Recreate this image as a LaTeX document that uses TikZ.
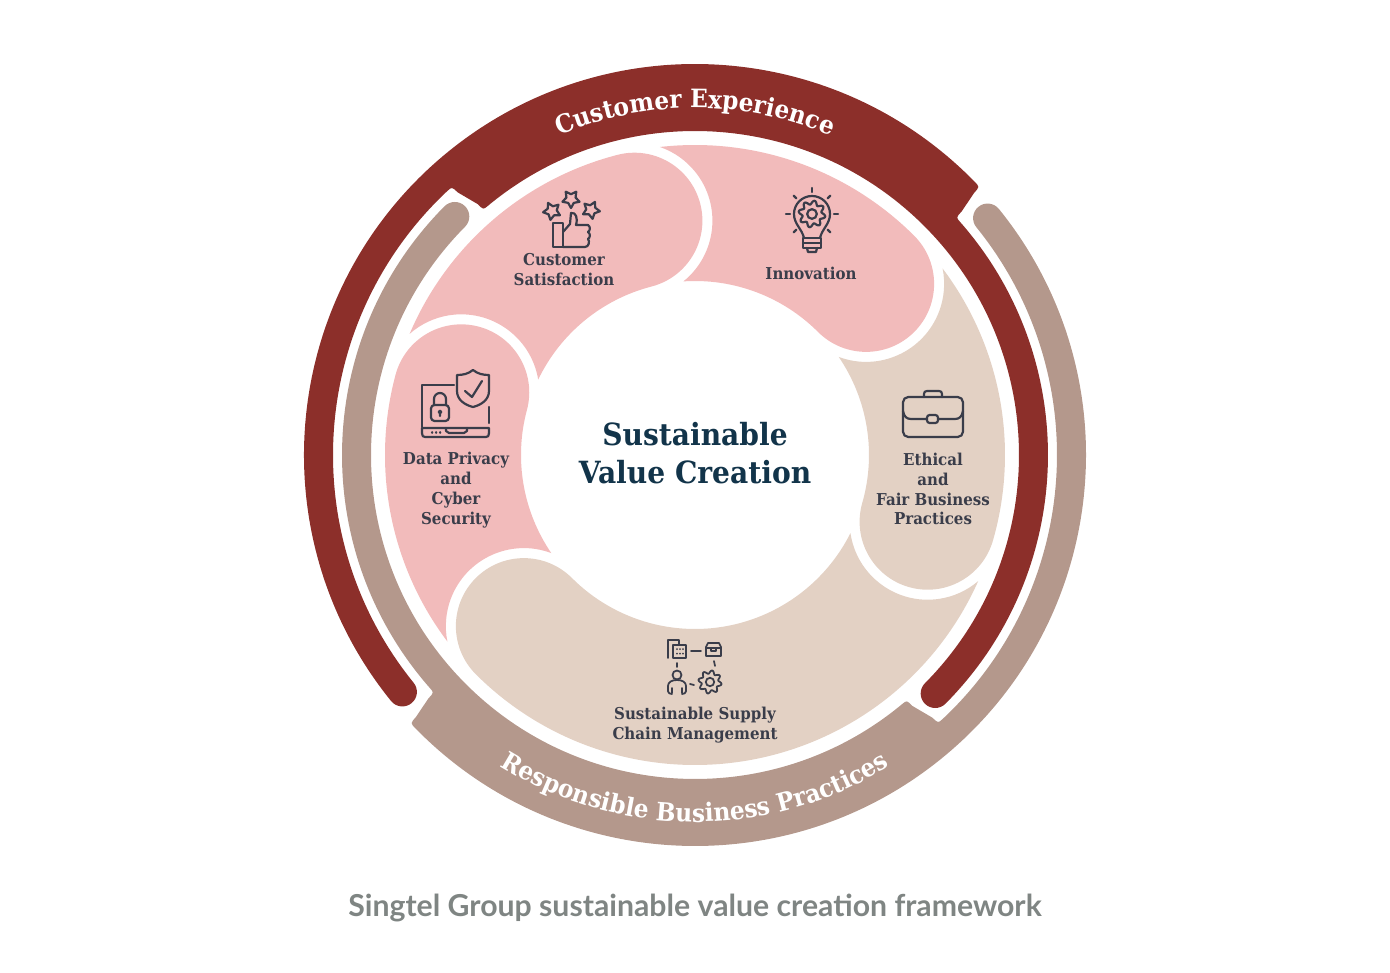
\documentclass[tikz,border=0pt]{standalone}
\usepackage{fontspec}
\setmainfont{DejaVu Serif}[FakeStretch=0.92]
\setsansfont{Lato}
\usetikzlibrary{decorations.text}

\definecolor{bandred}{HTML}{8C2F2A}
\definecolor{bandtan}{HTML}{B4988C}
\definecolor{petalpink}{HTML}{F2BBBB}
\definecolor{petalsand}{HTML}{E3D1C4}
\definecolor{inkgrey}{HTML}{3A3D4A}
\definecolor{inkteal}{HTML}{12344A}
\definecolor{capgrey}{HTML}{7F8583}

\tikzstyle{tag} = [text=inkgrey, align=center, inner sep=0pt, font=\bfseries\fontsize{9.3}{11.35}\selectfont]
\tikzstyle{icon} = [draw=inkgrey, line width=1.25pt, line join=round, line cap=round]
\tikzstyle{thinicon} = [icon, line width=1pt]

% one outer band, turned as a whole
\newcommand{\band}[2]{
    \fill[#1, rotate=#2] (219:391) arc[start angle=219, end angle=44.3, radius=391]
        .. controls (43.3:391) .. (43.2:383) -- (42.4:361) .. controls (42.3:353) .. (41.3:353)
        arc[start angle=41.3, end angle=-44.8, radius=353]
        arc[start angle=-44.8, end angle=-224.8, radius=14.5]
        arc[start angle=-44.8, end angle=129.8, radius=324]
        .. controls (130.8:324) .. (130.9:332) -- (132.1:354) .. controls (132.2:362) .. (133.2:362)
        arc[start angle=133.2, end angle=219, radius=362]
        arc[start angle=39, end angle=-141, radius=14.5] -- cycle;
}
% one petal: head angle, angle of the next head, colour
\newcommand{\petal}[3]{
    \fill[#3] (#2-8:310) arc[start angle=#2-8, end angle=#1, radius=310]
        arc[start angle=#1, end angle=#1-180, radius=68]
        arc[start angle=#1, end angle=#2-10.68, radius=174]
        arc[start angle=#2+204.4, end angle=#2+326.4, radius=78] -- cycle;
}
\newcommand{\staricon}[3]{
    \draw[icon, shift={(#1,#2)}, rotate=#3] plot[samples at={90,126,...,414}] (\x:{ifthenelse(mod(\x-90,72)==0,9,4.8)}) -- cycle;
}
\newcommand{\gearicon}[4]{
    \draw[#4, shift={(#1,#2)}] plot[domain=0:360, samples=97, smooth] (\x:{#3*(1+.17*sin(8*\x))}) -- cycle;
    \draw[#4, shift={(#1,#2)}] (0,0) circle[radius=#3*.42];
}

\begin{document}
\begin{tikzpicture}[x=0.02cm, y=0.02cm]
    \useasboundingbox (-695,-518) rectangle (695,455);

    \band{bandtan}{180}
    \band{bandred}{0}

    \petal{104.5}{165}{petalpink}
    \petal{165}{225}{petalpink}
    \petal{225}{344}{petalsand}
    \petal{344}{405}{petalsand}
    \petal{45}{104.5}{petalpink}

    % band titles
    \path[decorate, decoration={text along path, text align=center,
        text={|\bfseries\fontsize{14.4}{14.4}\selectfont\color{white}|Customer Experience}}]
        (125:347) arc[start angle=125, end angle=55, radius=347];
    \path[decorate, decoration={text along path, text align=center,
        text={|\bfseries\fontsize{14.4}{14.4}\selectfont\color{white}|Responsible Business Practices}}]
        (205:367) arc[start angle=205, end angle=335, radius=367];

    \node (title) at (0,2) [align=center, inner sep=0pt, text=inkteal, font=\bfseries\fontsize{17.4}{22}\selectfont] {Sustainable\\Value Creation};
    \node (satisfaction) at (-131,185) [tag] {Customer\\Satisfaction};
    \node (innovation) at (116,182) [tag] {Innovation};
    \node (privacy) at (-239,-35) [tag] {Data Privacy\\and\\Cyber\\Security};
    \node (ethics) at (238,-34) [tag] {Ethical\\and\\Fair Business\\Practices};
    \node (supply) at (0,-270) [tag] {Sustainable Supply\\Chain Management};
    \node (caption) at (0,-453) [text=capgrey, inner sep=0pt, font=\sffamily\bfseries\fontsize{17.2}{18}\selectfont] {Singtel Group sustainable value creation framework};

    % icons, written in pixels of the sheet
    \begin{scope}[shift={(-695,455)}, yscale=-1]
        % thumb and stars
        \staricon{552}{211}{10}
        \staricon{571}{199}{0}
        \staricon{591}{210}{-10}
        \draw[icon] (553,223) rectangle (563,247);
        \draw[icon] (563,232) -- (570,224) -- (571,213) .. controls (576,212) and (578,218) .. (576,225)
            -- (588,225) .. controls (591,227) and (590,231) .. (588,232) .. controls (591,234) and (590,238) .. (588,239)
            .. controls (590,241) and (589,247) .. (585,247) -- (563,247);

        % bulb
        \draw[icon] (804,238) .. controls (802,229) and (794,224) .. (794,214)
            arc[start angle=180, end angle=360, radius=18]
            .. controls (830,224) and (822,229) .. (820,238);
        \gearicon{812}{214}{11.5}{icon}
        \draw[icon] (803,238) rectangle (821,248);
        \draw[icon] (803,243) -- (821,243);
        \draw[icon] (807,248) -- (808,252) -- (816,252) -- (817,248);
        \foreach \a in {0,45,135,180,225,270,315} {
            \draw[icon] (812,214) ++(\a:22) -- ++(\a:4);
        }

        % laptop and shield
        \draw[icon] (454,385) -- (422,385) -- (422,427);
        \draw[icon] (489,407) -- (489,423);
        \draw[icon] (422,428) -- (489,428) -- (489,433) .. controls (489,436) and (488,437) .. (486,437) -- (425,437) .. controls (423,437) and (422,436) .. (422,433) -- cycle;
        \draw[icon] (446,428) -- (446,431) -- (449,433) -- (464,433) -- (467,431) -- (467,428);
        \foreach \x in {432,436,440} {
            \draw[icon] (\x,432.5) -- (\x+.3,432.5);
        }
        \draw[icon] (473,370) .. controls (468,374) and (463,375) .. (457,375) -- (457,391)
            .. controls (457,400) and (465,405) .. (473,407) .. controls (481,405) and (489,400) .. (489,391) -- (489,375)
            .. controls (483,375) and (478,374) .. (473,370) -- cycle;
        \draw[icon] (465,391) -- (472,397) -- (482,381);
        \draw[icon, rounded corners=2pt] (431,405) rectangle (449,421);
        \draw[icon] (434,405) -- (434,399) arc[start angle=180, end angle=360, radius=6] -- (446,405);
        \draw[icon] (440,412) circle[radius=1.4] (440,413.5) -- (440,416);

        % briefcase
        \draw[icon, rounded corners=3pt] (903,397) rectangle (963,437);
        \draw[icon] (924,397) -- (924,394) .. controls (924,392) and (925,391) .. (927,391) -- (939,391) .. controls (941,391) and (942,392) .. (942,394) -- (942,397);
        \draw[icon] (903,411) .. controls (904,417) and (907,419) .. (911,419) -- (927,419);
        \draw[icon] (938,419) -- (955,419) .. controls (959,419) and (962,417) .. (963,411);
        \draw[icon, rounded corners=1.5pt] (927,415) rectangle (938,423);

        % supply chain
        \draw[thinicon] (668,658) -- (668,640) -- (679,640) -- (679,645);
        \draw[thinicon] (673,645) rectangle (686,658);
        \foreach \x in {677,680,683} {
            \draw[thinicon] (\x,649) -- (\x,649.2) (\x,653.5) -- (\x,653.7);
        }
        \draw[thinicon] (691,651) -- (701,651);
        \draw[thinicon] (706,647) -- (708,643) -- (719,643) -- (721,647) -- (721,656) -- (706,656) -- cycle (706,648) -- (721,648) (711,648) -- (711,651) -- (716,651) -- (716,648);
        \draw[thinicon] (677,663) -- (677,667) (714,661) -- (715,666) (690,684) -- (694,685);
        \draw[thinicon] (677,675) circle[radius=4.5];
        \draw[thinicon] (672,694) .. controls (667,694) and (668,690) .. (668,686) .. controls (668,682) and (672,680) .. (677,680) .. controls (682,680) and (686,682) .. (686,686) .. controls (686,690) and (687,694) .. (682,694);
        \draw[thinicon] (672,688) -- (672,693) (682,688) -- (682,693);
        \gearicon{710}{682}{10}{thinicon}
    \end{scope}
\end{tikzpicture}
\end{document}
